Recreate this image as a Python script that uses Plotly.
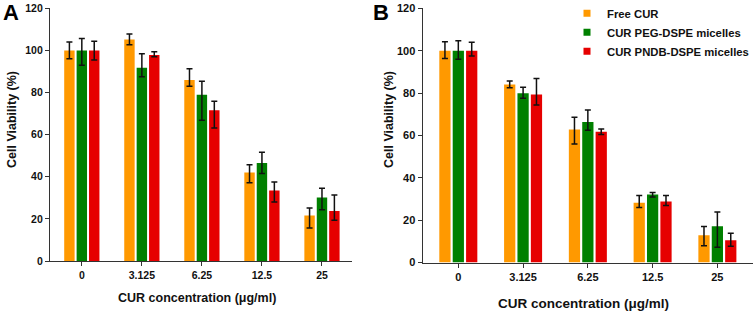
import plotly.graph_objects as go

categories = ["0", "3.125", "6.25", "12.5", "25"]
series_names = ["Free CUR", "CUR PEG-DSPE micelles", "CUR PNDB-DSPE micelles"]
colors = ["#FF9900", "#008000", "#E60000"]
x_title = "CUR concentration (μg/ml)"
y_title = "Cell Viability (%)"

# Panel A values, upper and lower error
a_free = [100, 105.2, 85.9, 42.0, 21.6]
a_free_up = [4.0, 2.6, 5.4, 3.7, 3.6]
a_free_dn = [4.0, 2.5, 2.9, 4.9, 5.9]
a_peg = [100, 91.8, 79.0, 46.5, 30.2]
a_peg_up = [5.7, 6.6, 6.4, 5.1, 4.4]
a_peg_dn = [7.0, 4.3, 12.2, 4.9, 5.9]
a_pndb = [100, 97.8, 71.6, 33.5, 23.8]
a_pndb_up = [4.4, 1.6, 4.3, 4.0, 7.6]
a_pndb_dn = [4.6, 0.8, 8.4, 5.5, 4.4]

# Panel B values, upper and lower error
b_free = [100, 84.1, 62.8, 28.3, 12.9]
b_free_up = [4.2, 1.6, 5.8, 3.4, 4.1]
b_free_dn = [3.7, 1.6, 6.8, 2.3, 4.9]
b_peg = [100, 79.9, 66.3, 32.1, 17.1]
b_peg_up = [4.7, 2.9, 5.7, 1.0, 6.8]
b_peg_dn = [4.1, 2.4, 3.8, 1.2, 9.9]
b_pndb = [100, 79.3, 61.7, 28.8, 10.5]
b_pndb_up = [4.0, 7.6, 1.3, 2.9, 3.3]
b_pndb_dn = [2.5, 4.9, 1.3, 1.9, 2.8]

W, H = 754, 312
FONT = "Liberation Sans, Arial, sans-serif"

fig = go.Figure()

panels = [
    ("x", "y", [(a_free, a_free_up, a_free_dn), (a_peg, a_peg_up, a_peg_dn), (a_pndb, a_pndb_up, a_pndb_dn)]),
    ("x2", "y2", [(b_free, b_free_up, b_free_dn), (b_peg, b_peg_up, b_peg_dn), (b_pndb, b_pndb_up, b_pndb_dn)]),
]
for xa, ya, data in panels:
    for (vals, up, dn), name, col in zip(data, series_names, colors):
        fig.add_trace(go.Bar(
            x=categories, y=vals, name=name, marker=dict(color=col, line=dict(width=0)),
            error_y=dict(type="data", symmetric=False, array=up, arrayminus=dn,
                         color="#111111", thickness=1.5, width=3),
            xaxis=xa, yaxis=ya, showlegend=False, offsetgroup=name,
        ))

for name, col in zip(series_names, colors):
    fig.add_trace(go.Scatter(x=[None], y=[None], mode="markers", name=name,
                             marker=dict(symbol="square", size=7, color=col),
                             xaxis="x2", yaxis="y2", showlegend=True))

axis_common = dict(showline=True, linecolor="#333333", linewidth=1.3, showgrid=False,
                   zeroline=False, ticks="outside", ticklen=4, tickcolor="#333333",
                   tickwidth=1.2, automargin=False)


def px_x(v):
    return v / W


def px_y(v):
    return (H - v) / H


def label(text, x, y, size, angle=0):
    return dict(text=text, x=px_x(x), y=px_y(y), xref="paper", yref="paper",
                xanchor="center", yanchor="middle", showarrow=False, textangle=angle,
                font=dict(size=size, weight="bold", color="#111111"))


fig.update_layout(
    width=W, height=H, margin=dict(l=0, r=0, t=0, b=0, autoexpand=False),
    paper_bgcolor="white", plot_bgcolor="white",
    barmode="group", bargap=0.38, bargroupgap=0.16,
    font=dict(family=FONT, color="#111111", size=11, weight="bold"),
    xaxis=dict(domain=[50 / W, 352 / W], type="category", range=[-0.53, 4.5],
               tickfont=dict(size=10.5, weight="bold"), anchor="y", **axis_common),
    yaxis=dict(domain=[51 / H, 303.7 / H], range=[0, 120], dtick=20,
               tickfont=dict(size=10.5, weight="bold"), anchor="x", **axis_common),
    xaxis2=dict(domain=[422.7 / W, 753 / W], type="category", range=[-0.55, 4.55],
                tickfont=dict(size=11, weight="bold"), anchor="y2", **axis_common),
    yaxis2=dict(domain=[49.4 / H, 303.7 / H], range=[0, 120], dtick=20,
                tickfont=dict(size=11, weight="bold"), anchor="x2", **axis_common),
    legend=dict(x=567 / W, y=1.004, xanchor="left", yanchor="top",
                font=dict(size=11.3, weight="bold"), bgcolor="rgba(0,0,0,0)",
                itemwidth=30, tracegroupgap=0),
    annotations=[
        dict(text="A", x=1 / W, y=1.008, xref="paper", yref="paper", xanchor="left", yanchor="top",
             showarrow=False, font=dict(size=22, weight="bold", color="#000000")),
        dict(text="B", x=371 / W, y=1.008, xref="paper", yref="paper", xanchor="left", yanchor="top",
             showarrow=False, font=dict(size=22, weight="bold", color="#000000")),
        label(x_title, 197, 298, 12.5),
        label(x_title, 583, 303, 13.5),
        label(y_title, 12, 120, 12.5, -90),
        label(y_title, 389, 119, 12.5, -90),
    ],
)

fig.write_html("out.html", config={"displayModeBar": False},
               post_script="document.body.style.margin='0';document.body.style.padding='0';")
